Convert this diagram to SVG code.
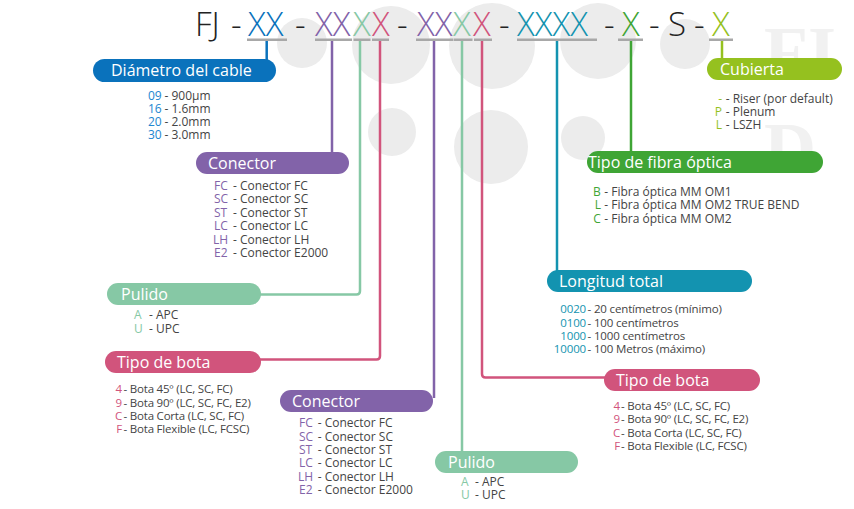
<svg xmlns="http://www.w3.org/2000/svg" width="854" height="509" viewBox="0 0 854 509">
<style>
text{font-family:"Open Sans","Noto Sans","DejaVu Sans",sans-serif}
.bg{fill:#ececec}
.wm{fill:#f1f1f1;font-family:"Liberation Serif",serif;font-weight:bold;font-size:72px}
.title{font-size:33px;font-weight:300;fill:#222}
.ul{fill:#a8a8a8}
.ln{fill:none;stroke-width:2.5;stroke-linejoin:round}
.lbl{fill:#fff;font-size:16px}
.it{font-size:12px;fill:#444}
.itc{font-size:11.5px;fill:#444;letter-spacing:-0.2px}
.itl{font-size:11.5px;fill:#444;letter-spacing:-0.15px}
.blue{fill:#0a72bc}.purple{fill:#8263a9}.mint{fill:#86c8a5}.pink{fill:#d1547c}.teal{fill:#1393b0}.green{fill:#3fa535}.lime{fill:#95c11f}
.cblue{fill:#2286d0}
.end{text-anchor:end}
</style>
<g id="background">
<circle class="bg" cx="302" cy="43" r="25"/>
<circle class="bg" cx="391" cy="45" r="39"/>
<circle class="bg" cx="492" cy="46" r="43"/>
<circle class="bg" cx="598" cy="41" r="38"/>
<circle class="bg" cx="685" cy="44" r="25"/>
<circle class="bg" cx="392" cy="132" r="24"/>
<circle class="bg" cx="491" cy="147" r="37"/>
<circle class="bg" cx="583" cy="138" r="22"/>
<text class="wm" x="764" y="76">FI</text>
<text class="wm" x="764" y="172">D</text>
</g>
<g id="title">
<text class="title" y="35.5"><tspan x="195">FJ</tspan><tspan x="231">-</tspan><tspan x="248" class="blue">XX</tspan><tspan x="295">-</tspan><tspan x="315" class="purple">XX</tspan><tspan x="353" class="mint">X</tspan><tspan x="372" class="pink">X</tspan><tspan x="397">-</tspan><tspan x="417" class="purple">XX</tspan><tspan x="453" class="mint">X</tspan><tspan x="473" class="pink">X</tspan><tspan x="499">-</tspan><tspan x="517" class="teal">XXXX</tspan><tspan x="604">-</tspan><tspan x="622" class="green">X</tspan><tspan x="649">-</tspan><tspan x="668">S</tspan><tspan x="694">-</tspan><tspan x="712" class="lime">X</tspan></text>
<rect class="ul" x="247" y="38.5" width="40" height="2.5"/>
<rect class="ul" x="315" y="38.5" width="37" height="2.5"/>
<rect class="ul" x="353.5" y="38.5" width="17" height="2.5"/>
<rect class="ul" x="372" y="38.5" width="17" height="2.5"/>
<rect class="ul" x="416" y="38.5" width="37" height="2.5"/>
<rect class="ul" x="453.5" y="38.5" width="19" height="2.5"/>
<rect class="ul" x="474" y="38.5" width="18" height="2.5"/>
<rect class="ul" x="517" y="38.5" width="80" height="2.5"/>
<rect class="ul" x="618" y="38.5" width="25" height="2.5"/>
<rect class="ul" x="709" y="38.5" width="24" height="2.5"/>
</g>
<g id="connectors">
<path class="ln" stroke="#0a72bc" d="M266.7 41V60"/>
<path class="ln" stroke="#8263a9" d="M332 41V153"/>
<path class="ln" stroke="#86c8a5" d="M360 41V291Q360 294.5 356.5 294.5H258"/>
<path class="ln" stroke="#d1547c" d="M380 41V356Q380 359.5 376.5 359.5H258"/>
<path class="ln" stroke="#8263a9" d="M434 41V398"/>
<path class="ln" stroke="#86c8a5" d="M462 41V452"/>
<path class="ln" stroke="#d1547c" d="M482 41V374Q482 377.5 485.5 377.5H607"/>
<path class="ln" stroke="#1393b0" d="M557 41V271"/>
<path class="ln" stroke="#3fa535" d="M631 41V152"/>
<path class="ln" stroke="#95c11f" d="M722 41V59"/>
</g>
<g id="node-diametro">
<rect class="blue" x="93" y="59" width="183" height="23" rx="11.5"/>
<text class="lbl" x="111" y="75.5">Diámetro del cable</text>
<text class="it cblue"><tspan x="148" y="99.5">09</tspan><tspan x="148" y="112.8">16</tspan><tspan x="148" y="126">20</tspan><tspan x="148" y="139.2">30</tspan></text>
<text class="it"><tspan x="164.5" y="99.5">- 900μm</tspan><tspan x="164.5" y="112.8">- 1.6mm</tspan><tspan x="164.5" y="126">- 2.0mm</tspan><tspan x="164.5" y="139.2">- 3.0mm</tspan></text>
</g>
<g id="node-conector1">
<rect class="purple" x="196" y="152" width="153" height="22" rx="11"/>
<text class="lbl" x="208" y="168.5">Conector</text>
<text class="it purple"><tspan x="214" y="190">FC</tspan><tspan x="214" y="203.4">SC</tspan><tspan x="214" y="216.8">ST</tspan><tspan x="214" y="230.2">LC</tspan><tspan x="213" y="243.6">LH</tspan><tspan x="214" y="257">E2</tspan></text>
<text class="it"><tspan x="233" y="190">- Conector FC</tspan><tspan x="233" y="203.4">- Conector SC</tspan><tspan x="233" y="216.8">- Conector ST</tspan><tspan x="233" y="230.2">- Conector LC</tspan><tspan x="233" y="243.6">- Conector LH</tspan><tspan x="233" y="257">- Conector E2000</tspan></text>
</g>
<g id="node-pulido1">
<rect class="mint" x="107" y="283" width="154" height="22" rx="11"/>
<text class="lbl" x="121" y="299.5">Pulido</text>
<text class="it mint"><tspan x="134" y="319">A</tspan><tspan x="134" y="332.5">U</tspan></text>
<text class="it"><tspan x="149" y="319">- APC</tspan><tspan x="149" y="332.5">- UPC</tspan></text>
</g>
<g id="node-bota1">
<rect class="pink" x="105" y="351" width="156" height="22" rx="11"/>
<text class="lbl" x="117" y="367.5">Tipo de bota</text>
<text class="itc pink end"><tspan x="122" y="393">4</tspan><tspan x="122" y="406.5">9</tspan><tspan x="122" y="420">C</tspan><tspan x="122" y="433.3">F</tspan></text>
<text class="itc"><tspan x="123.5" y="393">- Bota 45º (LC, SC, FC)</tspan><tspan x="123.5" y="406.5">- Bota 90º (LC, SC, FC, E2)</tspan><tspan x="123.5" y="420">- Bota Corta (LC, SC, FC)</tspan><tspan x="123.5" y="433.3">- Bota Flexible (LC, FCSC)</tspan></text>
</g>
<g id="node-conector2">
<rect class="purple" x="280" y="390" width="153" height="22" rx="11"/>
<text class="lbl" x="292" y="406.5">Conector</text>
<text class="it purple"><tspan x="299" y="427.3">FC</tspan><tspan x="299" y="440.7">SC</tspan><tspan x="299" y="454">ST</tspan><tspan x="299" y="467.3">LC</tspan><tspan x="298" y="480.7">LH</tspan><tspan x="299" y="493.7">E2</tspan></text>
<text class="it"><tspan x="317.7" y="427.3">- Conector FC</tspan><tspan x="317.7" y="440.7">- Conector SC</tspan><tspan x="317.7" y="454">- Conector ST</tspan><tspan x="317.7" y="467.3">- Conector LC</tspan><tspan x="317.7" y="480.7">- Conector LH</tspan><tspan x="317.7" y="493.7">- Conector E2000</tspan></text>
</g>
<g id="node-pulido2">
<rect class="mint" x="435" y="451" width="143" height="22" rx="11"/>
<text class="lbl" x="448" y="467.5">Pulido</text>
<text class="it mint"><tspan x="461" y="486">A</tspan><tspan x="461" y="499.3">U</tspan></text>
<text class="it"><tspan x="475" y="486">- APC</tspan><tspan x="475" y="499.3">- UPC</tspan></text>
</g>
<g id="node-longitud">
<rect class="teal" x="547" y="270" width="205" height="22" rx="11"/>
<text class="lbl" x="559" y="286.5">Longitud total</text>
<text class="itl teal end"><tspan x="586" y="313.3">0020</tspan><tspan x="586" y="326.7">0100</tspan><tspan x="586" y="340">1000</tspan><tspan x="586" y="353.3">10000</tspan></text>
<text class="itl"><tspan x="587.5" y="313.3">- 20 centímetros (mínimo)</tspan><tspan x="587.5" y="326.7">- 100 centímetros</tspan><tspan x="587.5" y="340">- 1000 centímetros</tspan><tspan x="587.5" y="353.3">- 100 Metros (máximo)</tspan></text>
</g>
<g id="node-bota2">
<rect class="pink" x="604" y="369" width="156" height="22" rx="11"/>
<text class="lbl" x="616" y="385.5">Tipo de bota</text>
<text class="itc pink end"><tspan x="620" y="410">4</tspan><tspan x="620" y="423.3">9</tspan><tspan x="620" y="436.7">C</tspan><tspan x="620" y="450">F</tspan></text>
<text class="itc"><tspan x="621" y="410">- Bota 45º (LC, SC, FC)</tspan><tspan x="621" y="423.3">- Bota 90º (LC, SC, FC, E2)</tspan><tspan x="621" y="436.7">- Bota Corta (LC, SC, FC)</tspan><tspan x="621" y="450">- Bota Flexible (LC, FCSC)</tspan></text>
</g>
<g id="node-fibra">
<rect class="green" x="587" y="151" width="236" height="22" rx="11"/>
<text class="lbl" x="588" y="167.5">Tipo de fibra óptica</text>
<text class="it green" text-anchor="middle"><tspan x="597" y="196">B</tspan><tspan x="598" y="209.3">L</tspan><tspan x="597" y="222.7">C</tspan></text>
<text class="it"><tspan x="604.3" y="196">- Fibra óptica MM OM1</tspan><tspan x="604.3" y="209.3">- Fibra óptica MM OM2 TRUE BEND</tspan><tspan x="604.3" y="222.7">- Fibra óptica MM OM2</tspan></text>
</g>
<g id="node-cubierta">
<rect class="lime" x="707" y="58" width="135" height="22" rx="11"/>
<text class="lbl" x="720" y="74.5">Cubierta</text>
<text class="it lime end"><tspan x="722" y="102.7">-</tspan><tspan x="722" y="116">P</tspan><tspan x="722" y="129.3">L</tspan></text>
<text class="it"><tspan x="725.7" y="102.7">- Riser (por default)</tspan><tspan x="725.7" y="116">- Plenum</tspan><tspan x="725.7" y="129.3">- LSZH</tspan></text>
</g>
</svg>
